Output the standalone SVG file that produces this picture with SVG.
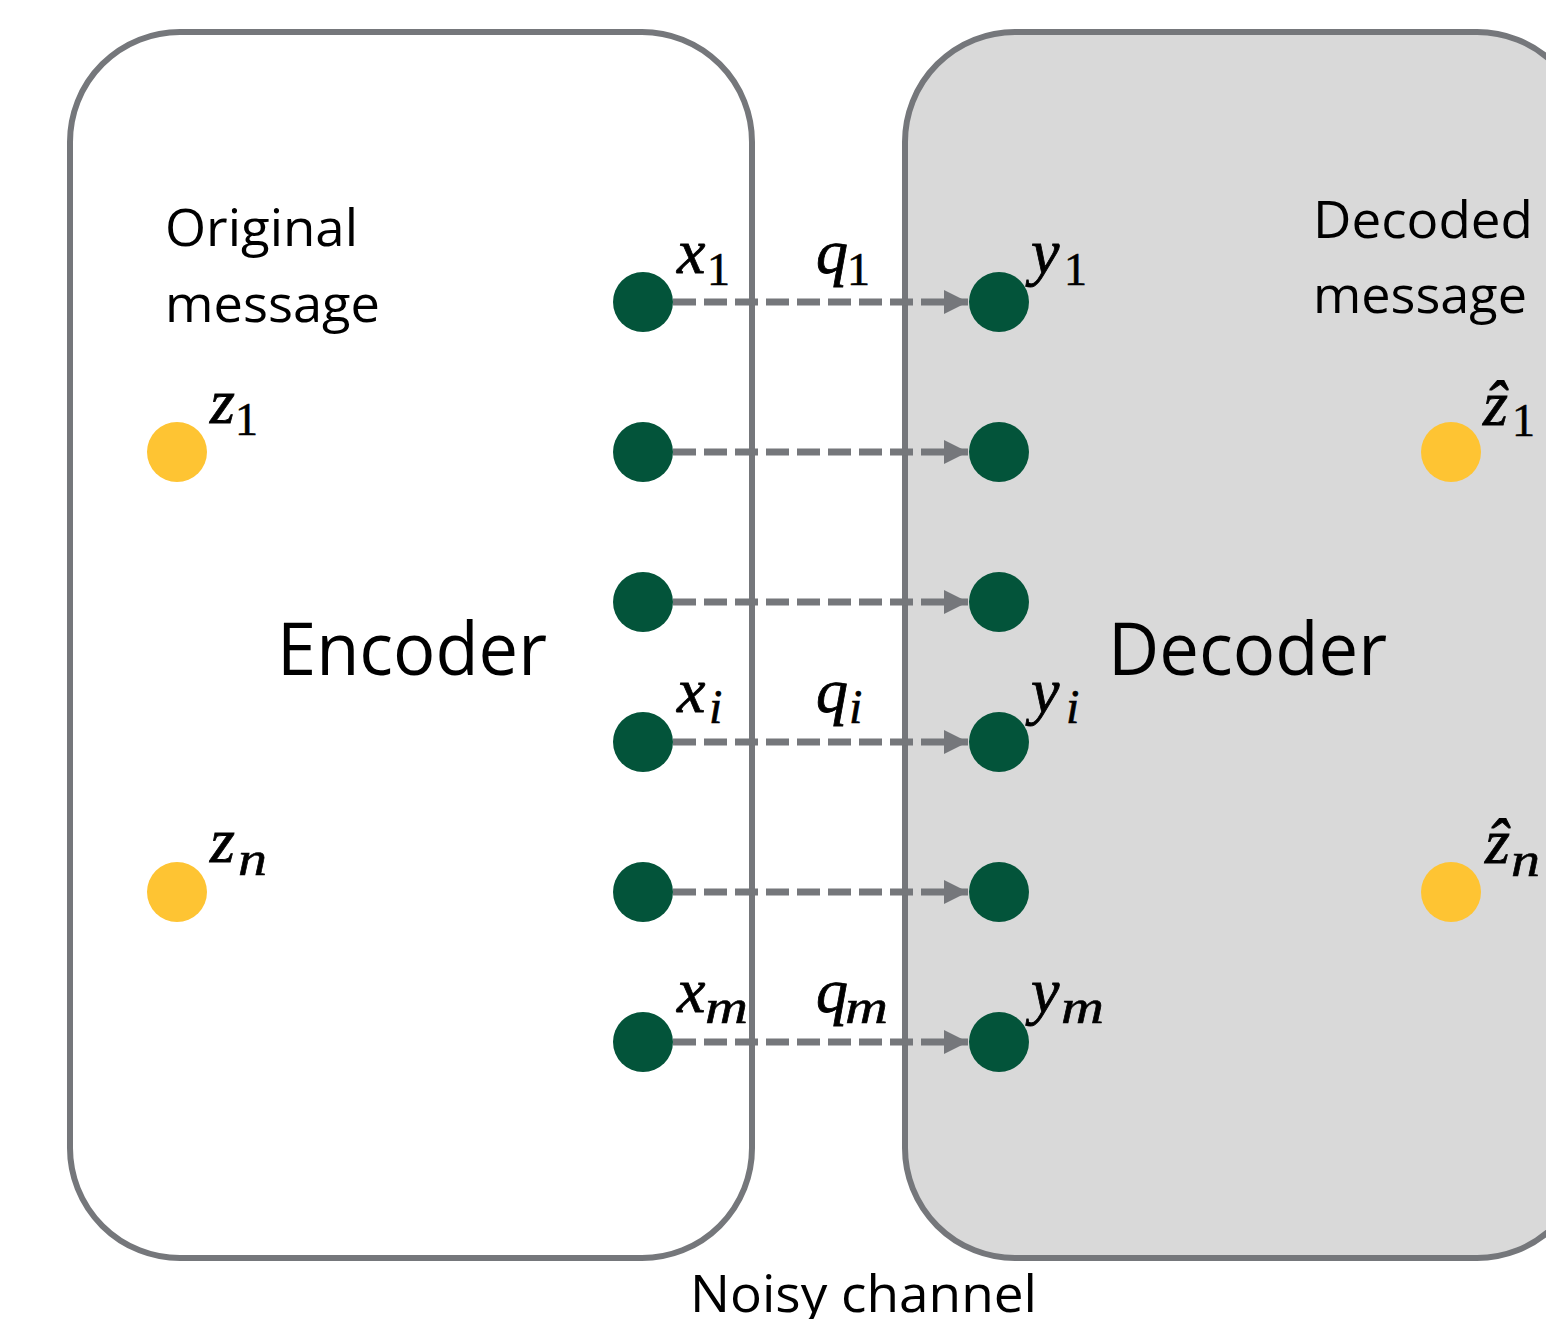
<svg xmlns="http://www.w3.org/2000/svg" width="1546" height="1319" viewBox="0 0 1546 1319">
<defs>
<style>
.box{stroke:#75777b;stroke-width:6}
.enc{fill:#ffffff}
.dec{fill:#d9d9d9}
.tx{font-family:"Open Sans","Noto Sans","Liberation Sans",sans-serif;fill:#000}
.m{font-family:"Liberation Serif","DejaVu Serif",serif;font-style:italic;font-size:64px;fill:#000;stroke:#000;stroke-width:0.8}
.s{font-family:"Liberation Serif","DejaVu Serif",serif;font-size:46px;fill:#000;stroke:#000;stroke-width:0.6}
.si{font-family:"Liberation Serif","DejaVu Serif",serif;font-style:italic;font-size:48px;fill:#000;stroke:#000;stroke-width:0.6}
.g{fill:#03543a}
.y{fill:#fec433}
.ch{stroke:#75777b;stroke-width:7;stroke-dasharray:23 8;fill:none}
</style>
<marker id="ah" markerUnits="userSpaceOnUse" markerWidth="26" markerHeight="24" refX="24" refY="12" orient="auto">
<path d="M0,0 L24,12 L0,24 Z" fill="#75777b"/>
</marker>
</defs>
<rect width="1546" height="1319" fill="#ffffff"/>
<g id="decoder">
<rect class="box dec" x="905" y="32" width="682" height="1226" rx="110" ry="110"/>
<text class="tx" x="1108" y="675" font-size="74" textLength="279" lengthAdjust="spacingAndGlyphs">Decoder</text>
<text class="tx" x="1313" y="238" font-size="52" textLength="220" lengthAdjust="spacingAndGlyphs">Decoded</text>
<text class="tx" x="1313" y="313" font-size="52" textLength="214" lengthAdjust="spacingAndGlyphs">message</text>
</g>
<g id="encoder">
<rect class="box enc" x="70" y="32" width="682" height="1226" rx="110" ry="110"/>
<text class="tx" x="277" y="675" font-size="74" textLength="270" lengthAdjust="spacingAndGlyphs">Encoder</text>
<text class="tx" x="165" y="246" font-size="52" textLength="193" lengthAdjust="spacingAndGlyphs">Original</text>
<text class="tx" x="165" y="322" font-size="52" textLength="215" lengthAdjust="spacingAndGlyphs">message</text>
</g>
<g id="connectors">
<line class="ch" x1="673" y1="302" x2="968" y2="302" marker-end="url(#ah)"/>
<line class="ch" x1="673" y1="452" x2="968" y2="452" marker-end="url(#ah)"/>
<line class="ch" x1="673" y1="602" x2="968" y2="602" marker-end="url(#ah)"/>
<line class="ch" x1="673" y1="742" x2="968" y2="742" marker-end="url(#ah)"/>
<line class="ch" x1="673" y1="892" x2="968" y2="892" marker-end="url(#ah)"/>
<line class="ch" x1="673" y1="1042" x2="968" y2="1042" marker-end="url(#ah)"/>
</g>
<g id="enc-nodes">
<circle id="x1" class="g" cx="643" cy="302" r="30"/>
<circle id="x2" class="g" cx="643" cy="452" r="30"/>
<circle id="x3" class="g" cx="643" cy="602" r="30"/>
<circle id="xi" class="g" cx="643" cy="742" r="30"/>
<circle id="x5" class="g" cx="643" cy="892" r="30"/>
<circle id="xm" class="g" cx="643" cy="1042" r="30"/>
<circle id="z1" class="y" cx="177" cy="452" r="30"/>
<circle id="zn" class="y" cx="177" cy="892" r="30"/>
</g>
<g id="dec-nodes">
<circle id="y1" class="g" cx="999" cy="302" r="30"/>
<circle id="y2" class="g" cx="999" cy="452" r="30"/>
<circle id="y3" class="g" cx="999" cy="602" r="30"/>
<circle id="yi" class="g" cx="999" cy="742" r="30"/>
<circle id="y5" class="g" cx="999" cy="892" r="30"/>
<circle id="ym" class="g" cx="999" cy="1042" r="30"/>
<circle id="zh1" class="y" cx="1451" cy="452" r="30"/>
<circle id="zhn" class="y" cx="1451" cy="892" r="30"/>
</g>
<g id="labels">
<text class="m" x="677" y="273">x</text><text class="s" x="707" y="285">1</text>
<text class="m" x="816" y="273">q</text><text class="s" x="847" y="285">1</text>
<text class="m" x="1031" y="273">y</text><text class="s" x="1064" y="285">1</text>
<text class="m" x="677" y="712">x</text><text class="si" x="709" y="723">i</text>
<text class="m" x="816" y="712">q</text><text class="si" x="849" y="723">i</text>
<text class="m" x="1031" y="712">y</text><text class="si" x="1066" y="723">i</text>
<text class="m" x="677" y="1012">x</text><text class="si" x="705" y="1023" textLength="43" lengthAdjust="spacingAndGlyphs">m</text>
<text class="m" x="816" y="1012">q</text><text class="si" x="845" y="1023" textLength="43" lengthAdjust="spacingAndGlyphs">m</text>
<text class="m" x="1031" y="1012">y</text><text class="si" x="1061" y="1023" textLength="43" lengthAdjust="spacingAndGlyphs">m</text>
<text class="m" x="210" y="423">z</text><text class="s" x="235" y="435">1</text>
<text class="m" x="210" y="862">z</text><text class="si" x="238" y="875" textLength="29" lengthAdjust="spacingAndGlyphs">n</text>
<text class="m" x="1483" y="425">ẑ</text><text class="s" x="1512" y="436">1</text>
<text class="m" x="1485" y="863">ẑ</text><text class="si" x="1511" y="876" textLength="29" lengthAdjust="spacingAndGlyphs">n</text>
<text class="tx" x="690" y="1312" font-size="52" textLength="347" lengthAdjust="spacingAndGlyphs">Noisy channel</text>
</g>
</svg>
